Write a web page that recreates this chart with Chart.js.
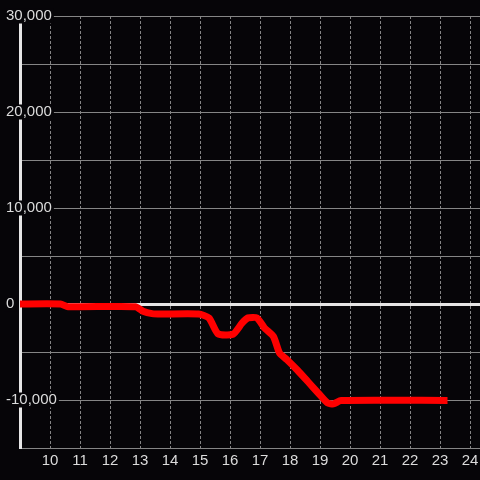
<!DOCTYPE html>
<html>
<head>
<meta charset="utf-8">
<script src="https://cdn.jsdelivr.net/npm/chart.js@4"></script>
<style>
  html, body { margin: 0; padding: 0; background: #060508; }
  canvas { display: block; }
</style>
</head>
<body>
<canvas id="chart" width="480" height="480"></canvas>
<script>
// hour of day (x) and running value (y)
const hours = [8.9, 10.35, 10.6, 12.85, 13.1, 13.4, 13.7, 14.95, 15.3, 15.6, 16.1, 16.4,
  16.6, 16.9, 17.15, 17.45, 17.65, 17.9, 18.25, 18.6, 18.95, 19.25, 19.45, 19.7, 23.25];
const values = [0, 0, -280, -280, -750, -1000, -1050, -1050, -1450, -3100, -3150, -2000,
  -1450, -1450, -2500, -3400, -5100, -5800, -6900, -8100, -9300, -10300, -10400, -10050, -10050];

const xTicks = [10, 11, 12, 13, 14, 15, 16, 17, 18, 19, 20, 21, 22, 23, 24];
const yGrid = [-15000, -10000, -5000, 0, 5000, 10000, 15000, 20000, 25000, 30000];
const yLabels = [-10000, 0, 10000, 20000, 30000];

const bg = "#060508";
const textColor = "#dcdcdc";
const gridColor = "#858585";

const points = hours.map((h, i) => ({ x: h, y: values[i] }));

new Chart(document.getElementById("chart"), {
  type: "line",
  data: {
    datasets: [
      {
        data: points,
        borderColor: "#ff0000",
        borderWidth: 7,
        pointRadius: 0,
        tension: 0.2,
        borderJoinStyle: "round",
      },
    ],
  },
  options: {
    responsive: false,
    animation: false,
    devicePixelRatio: 1,
    layout: { padding: { left: 20, top: 16, right: 0, bottom: 0 } },
    plugins: { legend: { display: false }, tooltip: { enabled: false } },
    scales: {
      x: {
        type: "linear",
        min: 9,
        max: 24.333,
        afterBuildTicks: (scale) => {
          scale.ticks = xTicks.map((v) => ({ value: v }));
        },
        afterFit: (scale) => {
          scale.height = 32;
          scale.paddingLeft = 0;
          scale.paddingRight = 0;
        },
        grid: {
          color: gridColor,
          lineWidth: 1,
          drawTicks: true,
          tickLength: 4,
          tickColor: "rgba(0,0,0,0)",
        },
        border: { display: false, dash: [3, 2] },
        ticks: {
          color: textColor,
          padding: 0,
          maxRotation: 0,
          font: { family: "Liberation Sans, Arial, sans-serif", size: 15 },
        },
      },
      y: {
        min: -15000,
        max: 30000,
        afterBuildTicks: (scale) => {
          scale.ticks = yGrid.map((v) => ({ value: v }));
        },
        afterFit: (scale) => {
          scale.width = 0;
        },
        grid: {
          drawTicks: false,
          color: (ctx) => (ctx.tick && ctx.tick.value === 0 ? "#e6e6e6" : gridColor),
          lineWidth: (ctx) => (ctx.tick && ctx.tick.value === 0 ? 3 : 1),
        },
        border: { display: true, color: "#e6e6e6", width: 3 },
        ticks: {
          mirror: true,
          padding: -14,
          color: textColor,
          showLabelBackdrop: true,
          backdropPadding: { left: 2, right: 2, top: 0, bottom: 0 },
          backdropColor: (ctx) =>
            ctx.tick && yLabels.includes(ctx.tick.value) ? bg : "rgba(0,0,0,0)",
          font: { family: "Liberation Sans, Arial, sans-serif", size: 15, lineHeight: 1 },
          callback: (v) => (yLabels.includes(v) ? v.toLocaleString("en-US") : ""),
        },
      },
    },
  },
});
</script>
</body>
</html>
